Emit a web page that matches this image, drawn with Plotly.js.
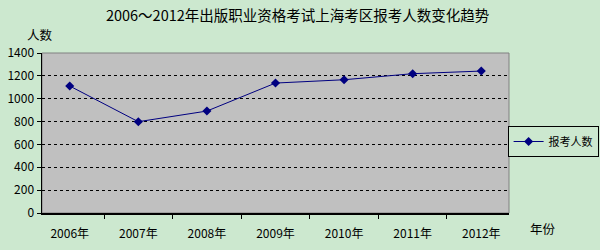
<!DOCTYPE html>
<html><head><meta charset="utf-8">
<script src="https://cdn.plot.ly/plotly-3.0.1.min.js"></script>
<style>html,body{margin:0;padding:0;background:#CCE8CF;}</style>
</head><body>
<div id="chart" style="width:600px;height:250px;"></div>
<script>
const years = ["2006年","2007年","2008年","2009年","2010年","2011年","2012年"];
const applicants = [1111, 799, 892, 1137, 1166, 1219, 1242];
const seriesName = "报考人数";
const chartTitle = "2006～2012年出版职业资格考试上海考区报考人数变化趋势";

const font = "SimSun, 'Noto Sans CJK SC', sans-serif";
const trace = {
  x: years, y: applicants, type: "scatter", mode: "lines+markers", name: seriesName,
  line: {color: "#000080", width: 1},
  marker: {symbol: "diamond", size: 7, color: "#000080"}
};
const layout = {
  width: 600, height: 250,
  margin: {l: 42, r: 91, t: 53, b: 37, autoexpand: false},
  paper_bgcolor: "#CCE8CF", plot_bgcolor: "#C0C0C0",
  font: {family: font, size: 12, color: "#000"},
  title: {text: chartTitle, xref: "container", yref: "container", x: 0.496, xanchor: "center", y: 0.936, yanchor: "middle", font: {size: 14.5, family: font}},
  showlegend: true,
  legend: {xref: "container", yref: "container", x: 0.846, xanchor: "left", y: 0.434, yanchor: "middle", bgcolor: "#CCE8CF", bordercolor: "#000", borderwidth: 1, font: {size: 11}, itemwidth: 30},
  xaxis: {
    type: "category", showline: true, linecolor: "#000", linewidth: 1.5, automargin: false,
    ticks: "outside", tickson: "boundaries", ticklen: 4, tickcolor: "#000", ticklabelstandoff: 9,
    showgrid: false, zeroline: false, tickfont: {size: 12}
  },
  yaxis: {
    range: [0, 1400], dtick: 200, showline: true, linecolor: "#000", linewidth: 1.5, automargin: false,
    ticks: "outside", ticklen: 4, tickcolor: "#000",
    showgrid: true, gridcolor: "#000", griddash: "dot", gridwidth: 1, zeroline: false,
    tickfont: {size: 12}
  },
  shapes: [{type: "rect", xref: "paper", yref: "paper", x0: 0, x1: 1, y0: 0, y1: 1, line: {color: "#808080", width: 1}, layer: "below"}],
  annotations: [
    {text: "人数", xref: "paper", yref: "paper", x: -0.036, y: 1.044, xanchor: "left", yanchor: "bottom", showarrow: false, font: {size: 12.5}},
    {text: "年份", xref: "paper", yref: "paper", x: 1.073, y: -0.094, xanchor: "center", yanchor: "middle", showarrow: false, font: {size: 12.5}}
  ]
};
Plotly.newPlot("chart", [trace], layout, {displayModeBar: false, staticPlot: true});
</script>
</body></html>
